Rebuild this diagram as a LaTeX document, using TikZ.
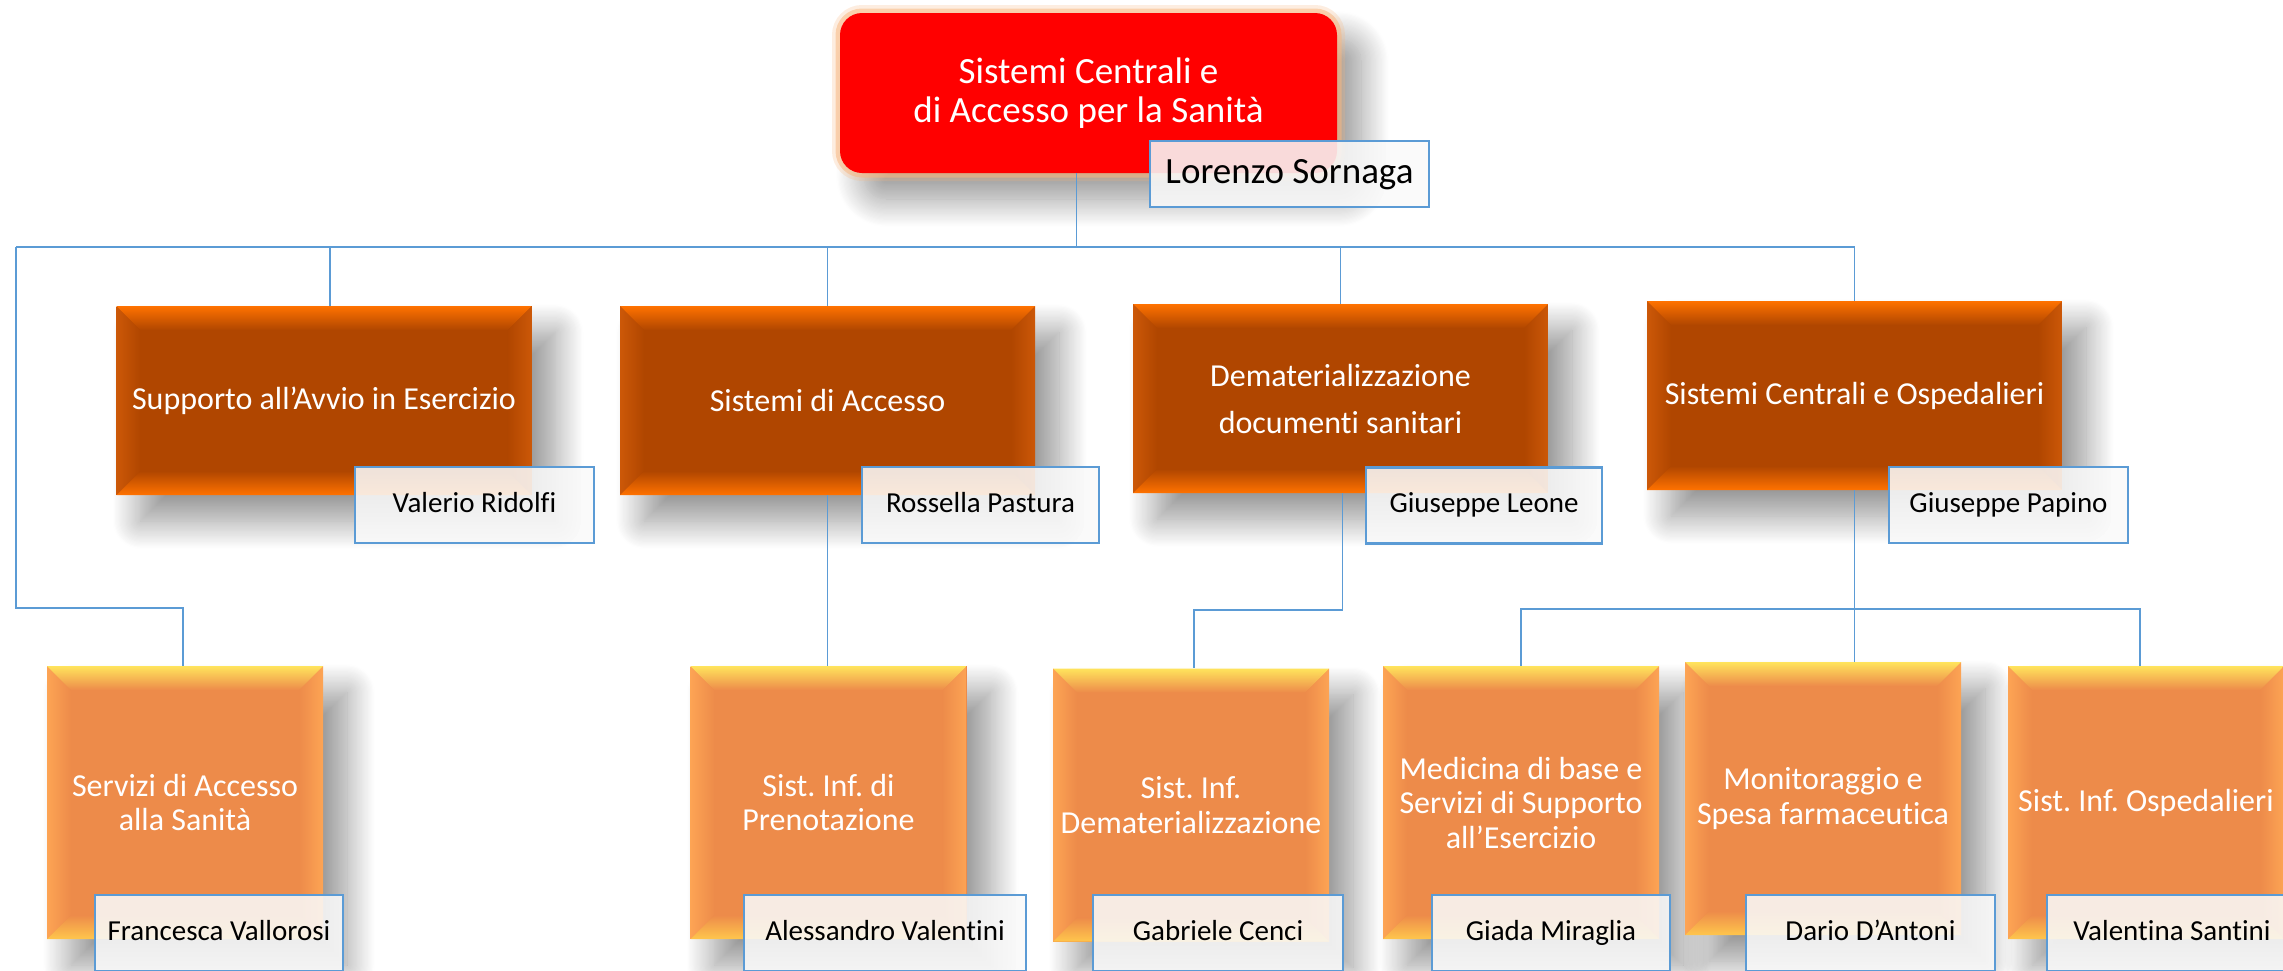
\documentclass[tikz,border=0pt]{standalone}
\usepackage{fontspec}
\setmainfont{Carlito}[Ligatures=NoCommon]
\usetikzlibrary{shadows.blur,calc}

\definecolor{lvA}{RGB}{176,70,0}
\definecolor{lvAedge}{RGB}{255,114,0}
\definecolor{lvAside}{RGB}{204,88,8}
\definecolor{lvB}{RGB}{237,139,74}
\definecolor{lvBtop}{RGB}{255,228,92}
\definecolor{lvBside}{RGB}{253,164,84}
\definecolor{lvBbot}{RGB}{255,198,76}
\definecolor{linkblue}{RGB}{91,155,213}
\definecolor{rootred}{RGB}{255,0,0}
\definecolor{glowor}{RGB}{248,184,130}
\definecolor{namefill}{RGB}{249,249,249}

\tikzset{
  bevelpic/.style n args={4}{%
    path picture={
      \path (path picture bounding box.north west) coordinate (qNW)
            (path picture bounding box.north east) coordinate (qNE)
            (path picture bounding box.south west) coordinate (qSW)
            (path picture bounding box.south east) coordinate (qSE);
      \shade[left color=#2, right color=#3] (qNW) -- ([shift={(24pt,-24pt)}]qNW) -- ([shift={(24pt,24pt)}]qSW) -- (qSW) -- cycle;
      \shade[left color=#3, right color=#2] (qNE) -- ([shift={(-24pt,-24pt)}]qNE) -- ([shift={(-24pt,24pt)}]qSE) -- (qSE) -- cycle;
      \shade[top color=#1, bottom color=#3] (qNW) -- (qNE) -- ([shift={(-24pt,-24pt)}]qNE) -- ([shift={(24pt,-24pt)}]qNW) -- cycle;
      \shade[top color=#3, bottom color=#4] (qSW) -- (qSE) -- ([shift={(-24pt,24pt)}]qSE) -- ([shift={(24pt,24pt)}]qSW) -- cycle;
    }
  },
  boxshadow/.style={blur shadow={shadow xshift=24pt, shadow yshift=-26pt, shadow blur radius=28pt,
    shadow blur steps=24, shadow opacity=42}},
  rootbox/.style={boxshadow, preaction={draw=glowor, line width=16pt, draw opacity=0.25},
    preaction={draw=glowor, line width=9pt, draw opacity=0.55},
    fill=rootred, rounded corners=22pt, minimum width=497pt, minimum height=160pt,
    inner sep=0pt, text=white, align=center, font=\fontsize{37}{39}\selectfont},
  lvone/.style={boxshadow, fill=lvA, minimum width=415pt, minimum height=189pt, inner sep=0pt,
    text=white, align=center, font=\fontsize{32}{47}\selectfont,
    bevelpic={lvAedge}{lvAside}{lvA}{lvAedge}},
  lvtwo/.style={boxshadow, fill=lvB, minimum width=276pt, minimum height=273pt, inner sep=0pt,
    text=white, align=center, font=\fontsize{32}{34.5}\selectfont,
    bevelpic={lvBtop}{lvBside}{lvB}{lvBbot}},
  namebox/.style={draw=linkblue, line width=2.5pt, fill=namefill, fill opacity=0.88, text opacity=1,
    text=black, minimum height=76pt, inner sep=0pt, font=\fontsize{29}{34}\selectfont,
    text height=20pt, text depth=6pt},
  conn/.style={draw=linkblue, line width=1.6pt},
}

\begin{document}
\frenchspacing
\begin{tikzpicture}[x=1pt,y=-1pt]
\useasboundingbox (0,0) rectangle (2283,970);
\clip (0,0) rectangle (2283,970);

% root
\node[rootbox] (root) at (1088.5,93) {Sistemi Centrali e\\di Accesso per la Sanità};

% level one
\node[lvone] (supp) at (324,400.5) {Supporto all’Avvio in Esercizio};
\node[lvone] (acc) at (827.5,400.5) {Sistemi di Accesso};
\node[lvone] (dem) at (1340.5,398.5) {Dematerializzazione\\documenti sanitari};
\node[lvone] (sco) at (1854.5,395.5) {Sistemi Centrali e Ospedalieri};

% level two
\node[lvtwo] (serv) at (185,802.5) {Servizi di Accesso\\alla Sanità};
\node[lvtwo] (pren) at (828.5,802.5) {Sist. Inf. di\\Prenotazione};
\node[lvtwo] (sdem) at (1191,805) {Sist. Inf.\\Dematerializzazione};
\node[lvtwo] (med) at (1521,802.5) {Medicina di base e\\Servizi di Supporto\\all’Esercizio};
\node[lvtwo] (mon) at (1823,798.5) {Monitoraggio e\\Spesa farmaceutica};
\node[lvtwo] (sosp) at (2146,802.5) {Sist. Inf. Ospedalieri};

% connectors
\coordinate (busW) at (16,247);
\coordinate (midA) at (0,608);
\coordinate (midB) at (0,610);
\coordinate (midC) at (0,609);
\coordinate (rootOut) at ([xshift=-12pt]root.south);
\coordinate (suppIn) at ([xshift=6pt]supp.north);
\coordinate (sospIn) at ([xshift=-6pt]sosp.north);
\draw[conn] (rootOut) -- (rootOut |- busW);
\draw[conn] (busW) -- (sco.north |- busW) -- (sco.north);
\draw[conn] (suppIn |- busW) -- (suppIn);
\draw[conn] (acc.north |- busW) -- (acc.north);
\draw[conn] (dem.north |- busW) -- (dem.north);
\draw[conn] (busW) -- (busW |- midA) -- ([xshift=-2pt]serv.north |- midA) -- ([xshift=-2pt]serv.north);
\draw[conn] (acc.south) -- (acc.south |- pren.north);
\draw[conn] ([xshift=2pt]dem.south) -- ([xshift=2pt]dem.south |- midB) -- ([xshift=3pt]sdem.north |- midB) -- ([xshift=3pt]sdem.north);
\draw[conn] (sco.south) -- (sco.south |- mon.north);
\draw[conn] (med.north) -- (med.north |- midC) -- (sospIn |- midC) -- (sospIn);

% names
\node[namebox, minimum width=279pt, minimum height=66pt, font=\fontsize{37}{40}\selectfont,
      text height=26pt, text depth=8pt] (lorenzo) at (1289.5,174) {Lorenzo Sornaga};
\node[namebox, minimum width=239pt] (valerio) at (474.5,505) {Valerio Ridolfi};
\node[namebox, minimum width=237pt] (rossella) at (980.5,505) {Rossella Pastura};
\node[namebox, minimum width=236pt] (leone) at (1484,505.5) {Giuseppe Leone};
\node[namebox, minimum width=239pt] (papino) at (2008.5,505) {Giuseppe Papino};
\node[namebox, minimum width=248pt] (francesca) at (219,933) {Francesca Vallorosi};
\node[namebox, minimum width=282pt] (alessandro) at (885,933) {Alessandro Valentini};
\node[namebox, minimum width=250pt] (gabriele) at (1218,933) {Gabriele Cenci};
\node[namebox, minimum width=238pt] (giada) at (1551,933) {Giada Miraglia};
\node[namebox, minimum width=249pt] (dario) at (1870.5,933) {Dario D’Antoni};
\node[namebox, minimum width=250pt] (valentina) at (2172,933) {Valentina Santini};
\end{tikzpicture}
\end{document}
